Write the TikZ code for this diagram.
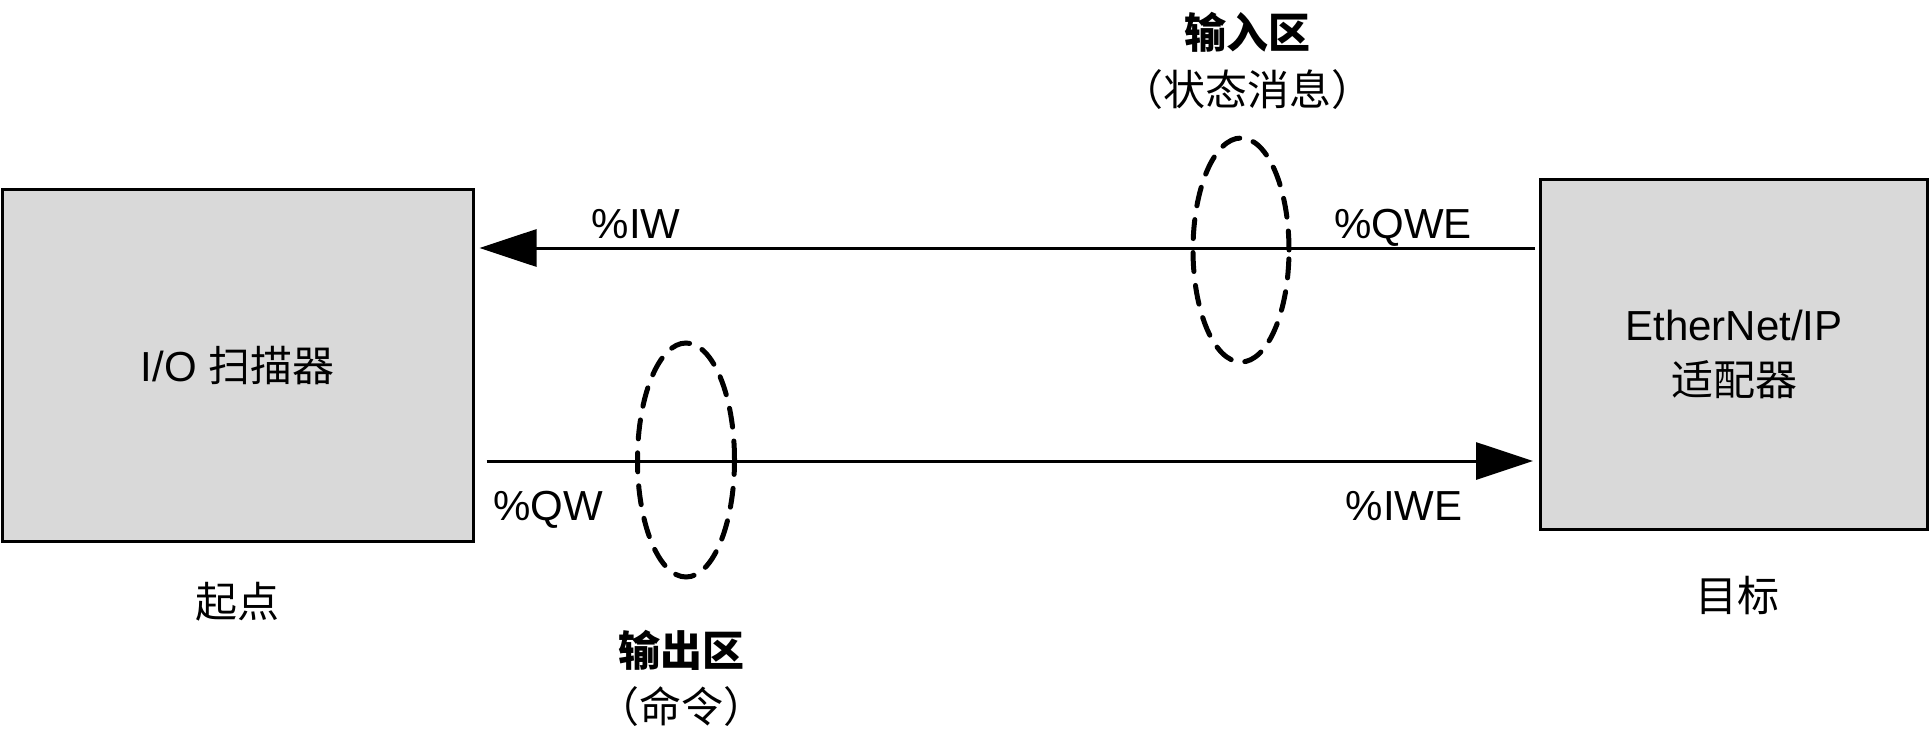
\documentclass[tikz,border=0pt]{standalone}
\usepackage{fontspec}
\setmainfont{Liberation Sans}
\newfontfamily\cjk{Noto Sans CJK SC}
\usetikzlibrary{arrows.meta,shapes.geometric}
\definecolor{boxgray}{RGB}{217,217,217}
\tikzset{
  devbox/.style={draw=black, line width=3pt, fill=boxgray, inner sep=0pt, align=center,
                 font=\fontsize{42}{55}\selectfont},
  conn/.style={line width=3pt, -{Triangle[length=57pt,width=37pt]}},
  zone/.style={ellipse, draw=black, line width=5pt, dash pattern=on 19pt off 14pt,
               line cap=round, inner sep=0pt},
  lbl/.style={inner sep=0pt, font=\fontsize{42}{50}\selectfont},
  cjklbl/.style={inner sep=0pt, font=\fontsize{42}{50}\selectfont\cjk},
  cjkbold/.style={inner sep=0pt, font=\fontsize{42}{50}\selectfont\cjk\bfseries}
}
\begin{document}
\begin{tikzpicture}[x=1pt,y=-1pt]
\useasboundingbox (0,0) rectangle (1931,736);
% devices
\node[devbox, minimum width=471pt, minimum height=352pt] (scanner) at (237.5,365.5)
  {I/O {\cjk 扫描器}};
\node[devbox, minimum width=387pt, minimum height=350pt] (adapter) at (1734,354.5)
  {EtherNet/IP\\{\cjk 适配器}};
% captions under devices
\node[cjklbl] (origin) at (237,602) {起点};
\node[cjklbl] (target) at (1737,596) {目标};
% helper rows for the connectors
\coordinate (ytop) at (0,248);
\coordinate (ybot) at (0,461);
% connectors
\draw[conn] ([xshift=-4pt]adapter.west |- ytop) -- ([xshift=5pt]scanner.east |- ytop);
\draw[conn] ([xshift=12pt]scanner.east |- ybot) -- ([xshift=-6pt]adapter.west |- ybot);
% connector end labels
\node[lbl, anchor=base] (iw) at (636,238) {\%IW};
\node[lbl, anchor=base] (qwe) at (1403,238) {\%QWE};
\node[lbl, anchor=base] (qw) at (548,520) {\%QW};
\node[lbl, anchor=base] (iwe) at (1404,520) {\%IWE};
% zones
\node[zone, minimum width=96pt, minimum height=224pt] (inzone) at (1241,250) {};
\node[zone, minimum width=97pt, minimum height=234pt] (outzone) at (686,460) {};
% zone captions
\node[cjkbold] (intitle) at (1247,32) {输入区};
\node[cjklbl] (insub) at (1247,90) {（状态消息）};
\node[cjkbold] (outtitle) at (681,650) {输出区};
\node[cjklbl] (outsub) at (681,707) {（命令）};
\end{tikzpicture}
\end{document}
